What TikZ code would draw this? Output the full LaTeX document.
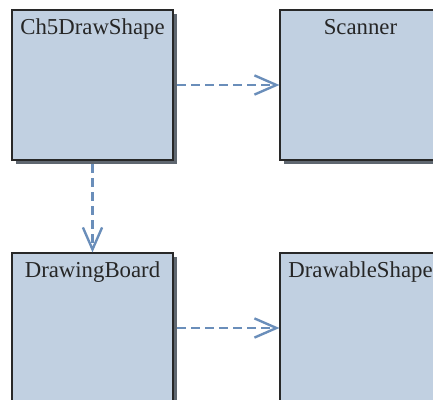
\documentclass[tikz,border=0pt]{standalone}
\usepackage{fontspec}
\setmainfont{Liberation Serif}
\usepackage{xcolor}
\definecolor{umlfill}{RGB}{193,208,225}
\definecolor{umlline}{RGB}{40,40,40}
\definecolor{umlshadow}{RGB}{95,103,112}
\definecolor{umlarrow}{RGB}{106,142,186}
\usetikzlibrary{arrows.meta,positioning,shadows}

\begin{document}
\begin{tikzpicture}[x=0.025cm,y=-0.025cm]
  \useasboundingbox (0,0) rectangle (433,400);

  %% Class boxes
  \tikzset{classbox/.style={draw=umlline,fill=umlfill,line width=0.8pt,
        minimum width=4.025cm,minimum height=3.75cm,inner sep=0pt,
        general shadow={shadow xshift=0.09cm,shadow yshift=-0.09cm,fill=umlshadow}},
        classname/.style={font=\fontsize{16.2}{19}\selectfont,text=black!85,
        anchor=base,yshift=-0.625cm,inner sep=0pt},
        depends/.style={-{Straight Barb[length=0.55cm,width=0.48cm]},umlarrow,
        line width=1.7pt,dash pattern=on 0.225cm off 0.125cm,shorten <=0.09cm}}

  \node[classbox,label={[classname]north:Ch5DrawShape}] (main) at (92.5,85) {};
  \node[classbox,label={[classname]north:Scanner}] (scan) at (360.5,85) {};
  \node[classbox,label={[classname]north:DrawingBoard}] (board) at (92.5,328) {};
  \node[classbox,label={[classname]north:DrawableShape}] (shape) at (360.5,328) {};

  %% Dependency arrows
  \draw[depends] (main.east) -- (scan.west);
  \draw[depends] (main.south) -- (board.north);
  \draw[depends] (board.east) -- (shape.west);
\end{tikzpicture}
\end{document}
